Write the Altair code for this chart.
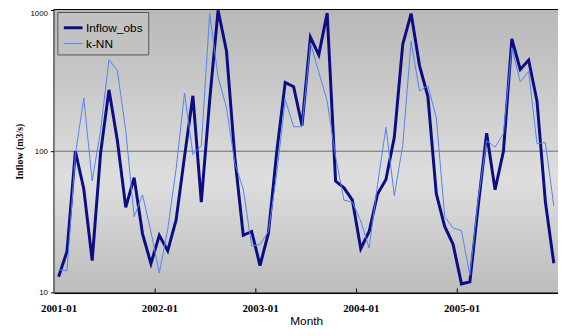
import altair as alt
import pandas as pd

months = [f"{y}-{m:02d}" for y in range(2001, 2006) for m in range(1, 13)]
tick_labels = ["2001-01", "2002-01", "2003-01", "2004-01", "2005-01"]
y_ticks = [10, 100, 1000]
series_names = ["Inflow_obs", "k-NN"]

inflow_obs = [12.9, 19.5, 100, 54, 16.8, 97, 272, 119, 40, 65, 26, 16,
              25.4, 19.7, 32.6, 91.6, 247, 43.6, 230, 995, 513, 90, 25.4, 27,
              15.5, 26.4, 100, 307, 286, 152, 641, 481, 953, 61.5, 55, 45,
              20.4, 27, 49.8, 63, 126, 570, 944, 404, 244, 50, 29.3, 21.9,
              11.5, 11.9, 41.4, 134, 53.3, 100, 624, 379, 442, 226, 43.6, 16.1]
knn = [14.5, 14.2, 95, 238, 61.5, 140, 445, 373, 140, 34.4, 49, 27,
       13.7, 28, 75, 258, 95, 109, 944, 336, 203, 82, 54, 21.3,
       21.9, 27, 70, 232, 149, 149, 586, 363, 226, 92, 45, 43.6,
       32, 20.6, 58, 148, 48.5, 110, 601, 267, 291, 173, 34.4, 28.6,
       27.4, 13.2, 46, 119, 107, 133, 541, 310, 367, 113, 115, 41]

rows = []
for i, (m, o, k) in enumerate(zip(months, inflow_obs, knn)):
    rows.append({"idx": i, "month": m, "series": "Inflow_obs", "value": o})
    rows.append({"idx": i, "month": m, "series": "k-NN", "value": k})
df = pd.DataFrame(rows)

W, H = 510, 286
half = W / len(months) / 2

label_pos = [months.index(t) - 0.5 for t in tick_labels]
label_expr = "[" + ",".join(f"'{t}'" for t in tick_labels) + "][round((datum.value+0.5)/12)]"

xscale = alt.Scale(domain=[-0.5, len(months) - 0.5], nice=False, zero=False)
yscale = alt.Scale(type="log", domain=[10, 1000], nice=False)

xaxis = alt.Axis(values=label_pos, labelExpr=label_expr, labelOffset=half,
                 ticks=False, grid=False, title="Month",
                 labelFont="Liberation Serif", labelFontWeight="bold",
                 labelFontSize=11, labelColor="black", labelPadding=10,
                 labelFlush=False, labelOverlap=False,
                 domainColor="black", domainWidth=2,
                 titleFont="Liberation Sans", titleFontSize=12,
                 titleFontWeight="normal", titleColor="black", titlePadding=2)
yaxis = alt.Axis(values=y_ticks, format="d", title="Inflow (m3/s)",
                 labelFont="Liberation Sans", labelFontSize=8, labelColor="black",
                 labelBaseline={"condition": {"test": "datum.value >= 1000", "value": "top"},
                                "value": "middle"},
                 tickSize=4, tickColor="black", labelPadding=3, grid=False,
                 domainColor="black", domainWidth=2,
                 titleFont="Liberation Serif", titleFontWeight="bold",
                 titleFontSize=10, titleColor="black", titlePadding=6)

grad = alt.Gradient(
    gradient="linear", x1=0, x2=0, y1=0, y2=1,
    stops=[alt.GradientStop(offset=0, color="#b8b8b8"),
           alt.GradientStop(offset=0.6, color="#dedede"),
           alt.GradientStop(offset=1, color="#bcbcbc")],
)

bg = alt.Chart(pd.DataFrame({"k": [0]})).mark_rect(fill=grad).encode(
    x=alt.value(0), x2=alt.value("width"), y=alt.value(0), y2=alt.value("height")
)

grid = alt.Chart(pd.DataFrame({"v": [100]})).mark_rule(color="#6a6a6a", strokeWidth=1).encode(
    y=alt.Y("v:Q", scale=yscale, axis=yaxis)
)

lines = alt.Chart(df).mark_line().encode(
    x=alt.X("idx:Q", scale=xscale, axis=xaxis),
    y=alt.Y("value:Q", scale=yscale, axis=yaxis),
    color=alt.Color("series:N",
                    scale=alt.Scale(domain=series_names, range=["#0c0c84", "#5282f7"]),
                    legend=alt.Legend(orient="none", legendX=3, legendY=2, title=None,
                                      symbolType="stroke", symbolSize=361,
                                      fillColor="#c2c2c2", strokeColor="#555555",
                                      padding=5, labelFont="Liberation Sans",
                                      labelFontSize=12, labelColor="black",
                                      rowPadding=0, labelOffset=2)),
    strokeWidth=alt.StrokeWidth("series:N",
                                scale=alt.Scale(domain=series_names, range=[3, 1])),
    detail="series:N",
)

ticks = alt.Chart(pd.DataFrame({"b": label_pos[1:]})).mark_rule(color="black", strokeWidth=1).encode(
    x=alt.X("b:Q", scale=xscale, axis=xaxis),
    y=alt.value(H - 4), y2=alt.value(H),
)

chart = alt.layer(bg, grid, lines, ticks).properties(
    width=W, height=H,
    autosize=alt.AutoSizeParams(type="none"),
    padding={"left": 47, "top": 0, "right": 0, "bottom": 34},
).configure(background="white").configure_view(stroke="black", strokeWidth=1.8)

chart.save("out.html", embed_options={"renderer": "svg", "actions": False})
